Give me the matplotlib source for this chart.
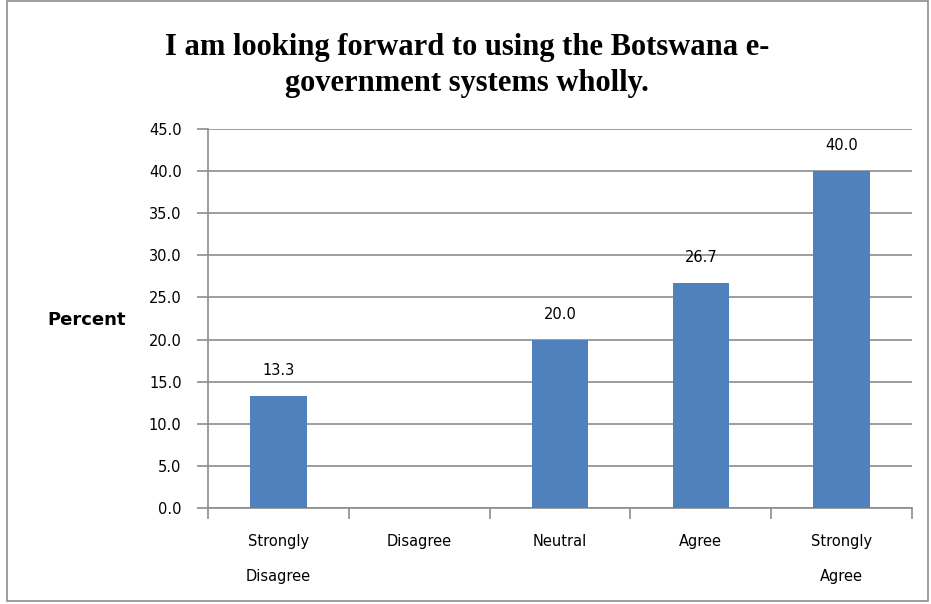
import matplotlib.pyplot as plt
from matplotlib.patches import Rectangle

categories = ["Strongly\nDisagree", "Disagree", "Neutral", "Agree", "Strongly\nAgree"]
percent = [13.3, 0.0, 20.0, 26.7, 40.0]
yticks = [0, 5, 10, 15, 20, 25, 30, 35, 40, 45]

fig = plt.figure(figsize=(9.31, 6.04), dpi=100)
ax = fig.add_axes([0.2234, 0.1589, 0.7562, 0.6275])

x = list(range(len(categories)))
bars = ax.bar(x, percent, width=0.4, color="#4F81BD", zorder=3)

for xi, v in zip(x, percent):
    if v > 0:
        ax.annotate(f"{v:.1f}", (xi, v), xytext=(0, 13), textcoords="offset points",
                    ha="center", va="bottom", fontsize=10.5, color="black")

ax.set_xlim(-0.5, len(categories) - 0.5)
ax.set_ylim(0, 45)
ax.set_yticks(yticks)
ax.set_yticklabels([f"{t:.1f}" for t in yticks], fontsize=10.5)
ax.yaxis.grid(True, color="#8c8c8c", linewidth=1.2, zorder=0)
ax.set_axisbelow(True)

ax.set_xticks(x)
ax.set_xticklabels(categories, fontsize=10.5, linespacing=2.6)
ax.tick_params(axis="x", length=0, pad=19)
ax.set_xticks([i - 0.5 for i in range(len(categories) + 1)], minor=True)
ax.tick_params(axis="x", which="minor", length=8, width=1.2, color="#8c8c8c", direction="out")
ax.tick_params(axis="y", length=8, width=1.2, color="#8c8c8c", direction="out", pad=11)

for side in ["top", "right"]:
    ax.spines[side].set_visible(False)
for side in ["left", "bottom"]:
    ax.spines[side].set_color("#8c8c8c")
    ax.spines[side].set_linewidth(1.2)

fig.text(0.502, 0.892, "I am looking forward to using the Botswana e-\ngovernment systems wholly.",
         ha="center", va="center", fontsize=22, fontweight="bold",
         family="Liberation Serif", linespacing=1.3)
fig.text(0.093, 0.47, "Percent", ha="center", va="center", fontsize=13, fontweight="bold")

fig.patches.append(Rectangle((0.008, 0.005), 0.989, 0.993, transform=fig.transFigure,
                             fill=False, edgecolor="#8c8c8c", linewidth=1.2))

fig.savefig("out.png", dpi=100)
